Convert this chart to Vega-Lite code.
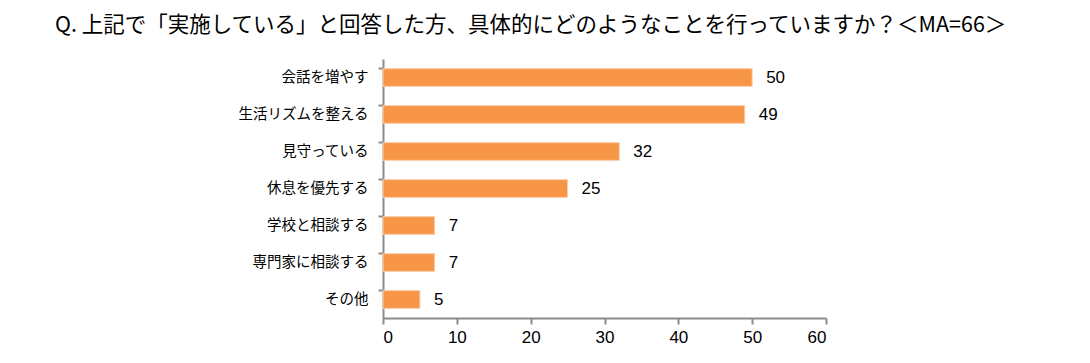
{
  "$schema": "https://vega.github.io/schema/vega-lite/v6.json",
  "width": 443,
  "height": 259,
  "autosize": {"type": "none"},
  "padding": {"left": 383, "top": 59, "right": 264, "bottom": 45},
  "background": "white",
  "config": {"view": {"stroke": null}, "font": "Noto Sans CJK JP"},
  "title": {
    "text": "Q. 上記で「実施している」と回答した方、具体的にどのようなことを行っていますか？＜MA=66＞",
    "anchor": "start",
    "frame": "group",
    "dx": -328,
    "offset": 23,
    "fontSize": 21.5,
    "fontWeight": "normal",
    "color": "#000000",
    "font": "Noto Sans CJK JP"
  },
  "data": {
    "values": [
      {"item": "会話を増やす", "value": 50},
      {"item": "生活リズムを整える", "value": 49},
      {"item": "見守っている", "value": 32},
      {"item": "休息を優先する", "value": 25},
      {"item": "学校と相談する", "value": 7},
      {"item": "専門家に相談する", "value": 7},
      {"item": "その他", "value": 5}
    ]
  },
  "encoding": {
    "y": {
      "field": "item",
      "type": "nominal",
      "sort": null,
      "scale": {"paddingInner": 0.52, "paddingOuter": 0.26},
      "axis": {
        "title": null,
        "bandPosition": 0,
        "domainColor": "#8c8c8c",
        "domainWidth": 2,
        "tickColor": "#8c8c8c",
        "tickWidth": 2,
        "tickSize": 5,
        "labelFontSize": 14.5,
        "labelColor": "#000000",
        "labelPadding": 10,
        "labelFont": "Noto Sans CJK JP"
      }
    },
    "x": {
      "field": "value",
      "type": "quantitative",
      "scale": {"domain": [0, 60]},
      "axis": {
        "title": null,
        "values": [0, 10, 20, 30, 40, 50, 60],
        "grid": false,
        "domainColor": "#8c8c8c",
        "domainWidth": 2,
        "tickColor": "#8c8c8c",
        "tickWidth": 2,
        "tickSize": 6,
        "labelFontSize": 17,
        "labelColor": "#000000",
        "labelPadding": 5,
        "labelFont": "Liberation Sans"
      }
    }
  },
  "layer": [
    {"mark": {"type": "bar", "color": "#F79646", "stroke": "#FBD0B0", "strokeWidth": 1}},
    {
      "mark": {"type": "text", "align": "left", "dx": 14, "fontSize": 17, "color": "#000000", "font": "Liberation Sans"},
      "encoding": {"text": {"field": "value", "type": "quantitative"}}
    }
  ]
}
